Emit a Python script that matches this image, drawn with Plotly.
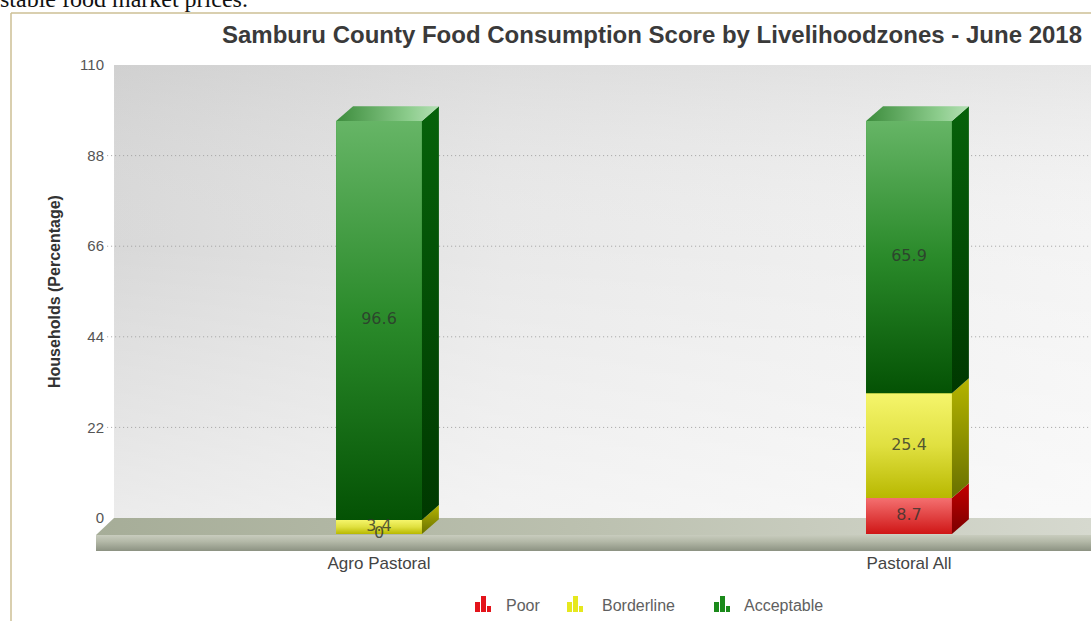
import plotly.graph_objects as go

# ---------------- data ----------------
zones = ["Agro Pastoral", "Pastoral All"]
poor = [0.0, 8.7]
borderline = [3.4, 25.4]
acceptable = [96.6, 65.9]
series_names = ["Poor", "Borderline", "Acceptable"]
y_ticks = [0, 22, 44, 66, 88, 110]

chart_title = "Samburu County Food Consumption Score by Livelihoodzones - June 2018"
y_title = "Households (Percentage)"

# ---------------- canvas / axes geometry ----------------
W, H = 1091, 621
PLOT_L, PLOT_B = 96, 551          # plot area: x from PLOT_L to W, y from 0 to PLOT_B
PLOT_W, PLOT_H = W - PLOT_L, PLOT_B

X_RANGE = [-0.534, 1.3434]        # category positions 0 and 1
Y_BACK_RANGE = [-8.014, 125.79]   # back wall scale (ticks + grid)
Y_FRONT_RANGE = [-4.116, 129.30]  # front plane scale (bar faces)

BAR_W = 0.162
DEPTH_X = 0.032                   # bar depth, x units
DEPTH_Y = 3.6                     # bar depth, front y units

WALL_LEFT = -0.50
FLOOR_FRONT = -4.128              # floor front edge on the back scale
GRID_LEFT = -0.513


def px_x(px):
    return (px - PLOT_L) / PLOT_W


def px_y(py):
    return (PLOT_B - py) / PLOT_H


# colour schemes: front gradient, side gradient, top gradient
STYLES = {
    "Poor": dict(front=[[0, "#cf1616"], [1, "#f47070"]],
                 side=[[0, "#7a0000"], [1, "#c40000"]],
                 top=[[0, "#d03030"], [1, "#f8a0a0"]],
                 icon="#e3141b"),
    "Borderline": dict(front=[[0, "#b8b800"], [0.5, "#e0e040"], [1, "#f5f56c"]],
                       side=[[0, "#687000"], [1, "#b4b400"]],
                       top=[[0, "#c8c820"], [1, "#f4f4a0"]],
                       icon="#e6e81e"),
    "Acceptable": dict(front=[[0, "#045204"], [0.5, "#2a8a2a"], [1, "#66b566"]],
                       side=[[0, "#003800"], [1, "#06620a"]],
                       top=[[0, "#3c8c3c"], [0.7, "#8ccc8c"], [1, "#b5e0b5"]],
                       icon="#1b8a1b"),
}

fig = go.Figure()

# ---------------- back wall ----------------
wx = [WALL_LEFT, X_RANGE[1], X_RANGE[1], WALL_LEFT, WALL_LEFT]
wy = [0, 0, 110, 110, 0]
fig.add_trace(go.Scatter(
    x=wx, y=wy, mode="lines", fill="toself", line=dict(width=0),
    fillgradient=dict(type="horizontal",
                      colorscale=[[0, "#d4d4d4"], [0.4, "#e6e6e6"], [1, "#f3f3f3"]]),
    hoverinfo="skip", showlegend=False, xaxis="x", yaxis="y"))
fig.add_trace(go.Scatter(
    x=wx, y=wy, mode="lines", fill="toself", line=dict(width=0),
    fillgradient=dict(type="vertical",
                      colorscale=[[0, "rgba(255,255,255,0.55)"], [0.6, "rgba(255,255,255,0.1)"],
                                  [1, "rgba(200,200,200,0.3)"]]),
    hoverinfo="skip", showlegend=False, xaxis="x", yaxis="y"))

# dotted grid lines on the wall
for v in y_ticks[1:-1]:
    fig.add_trace(go.Scatter(
        x=[GRID_LEFT, X_RANGE[1]], y=[v, v], mode="lines",
        line=dict(color="#a0a0a0", width=1, dash="1px,3px"),
        hoverinfo="skip", showlegend=False, xaxis="x", yaxis="y"))

# ---------------- floor ----------------
fig.add_trace(go.Scatter(
    x=[WALL_LEFT, X_RANGE[1], X_RANGE[1], X_RANGE[0], WALL_LEFT],
    y=[0, 0, FLOOR_FRONT, FLOOR_FRONT, 0], mode="lines", fill="toself", line=dict(width=0),
    fillgradient=dict(type="horizontal",
                      colorscale=[[0, "#a6ad98"], [0.5, "#bcc1b0"], [1, "#d6d9cf"]]),
    hoverinfo="skip", showlegend=False, xaxis="x", yaxis="y"))
fig.add_trace(go.Scatter(
    x=[X_RANGE[0], X_RANGE[1], X_RANGE[1], X_RANGE[0], X_RANGE[0]],
    y=[FLOOR_FRONT, FLOOR_FRONT, Y_BACK_RANGE[0], Y_BACK_RANGE[0], FLOOR_FRONT],
    mode="lines", fill="toself", line=dict(width=0),
    fillgradient=dict(type="vertical",
                      colorscale=[[0, "#8c9282"], [0.6, "#b4b9a8"], [1, "#c8ccbe"]]),
    hoverinfo="skip", showlegend=False, xaxis="x", yaxis="y"))

# ---------------- stacked bars (front plane) ----------------
values = {"Poor": poor, "Borderline": borderline, "Acceptable": acceptable}
xpos = list(range(len(zones)))

for name in series_names:
    fig.add_trace(go.Bar(
        x=xpos, y=values[name], name=name, width=BAR_W,
        marker=dict(color=STYLES[name]["icon"], line=dict(width=0)),
        xaxis="x", yaxis="y2", showlegend=False))

# shaded faces of each segment
label_x, label_y, label_t = [], [], []
for i, xc in enumerate(xpos):
    base = 0.0
    total = sum(values[n][i] for n in series_names)
    for name in series_names:
        v = values[name][i]
        top = base + v
        label_x.append(xc)
        label_y.append(base + v / 2)
        label_t.append(f"{v:g}")
        if v > 0:
            st = STYLES[name]
            x0, x1 = xc - BAR_W / 2, xc + BAR_W / 2
            # front face
            fig.add_trace(go.Scatter(
                x=[x0, x1, x1, x0, x0], y=[base, base, top, top, base],
                mode="lines", fill="toself", line=dict(width=0),
                fillgradient=dict(type="vertical", colorscale=st["front"]),
                hoverinfo="skip", showlegend=False, xaxis="x", yaxis="y2"))
            # right side face
            fig.add_trace(go.Scatter(
                x=[x1, x1 + DEPTH_X, x1 + DEPTH_X, x1, x1],
                y=[base, base + DEPTH_Y, top + DEPTH_Y, top, base],
                mode="lines", fill="toself", line=dict(width=0),
                fillgradient=dict(type="vertical", colorscale=st["side"]),
                hoverinfo="skip", showlegend=False, xaxis="x", yaxis="y2"))
            # top face of the stack
            if abs(top - total) < 1e-9:
                fig.add_trace(go.Scatter(
                    x=[x0, x1, x1 + DEPTH_X, x0 + DEPTH_X, x0],
                    y=[top, top, top + DEPTH_Y, top + DEPTH_Y, top],
                    mode="lines", fill="toself", line=dict(width=0),
                    fillgradient=dict(type="horizontal", colorscale=st["top"]),
                    hoverinfo="skip", showlegend=False, xaxis="x", yaxis="y2"))
        base = top

# value labels
fig.add_trace(go.Scatter(
    x=label_x, y=label_y, text=label_t, mode="text",
    textfont=dict(family="DejaVu Sans", size=16, color="rgba(45,50,45,0.8)"),
    hoverinfo="skip", showlegend=False, xaxis="x", yaxis="y2", cliponaxis=False))

# ---------------- custom legend ----------------
shapes = []
annotations = []
legend_items = [("Poor", 475, 504), ("Borderline", 567, 600), ("Acceptable", 714, 742)]
icon_bars = [(0, 5, 10), (6, 11, 16), (12, 16, 6)]   # (left, right, height) in px
for name, icon_px, text_px in legend_items:
    for l, r, h in icon_bars:
        shapes.append(dict(type="rect", xref="paper", yref="paper",
                           x0=px_x(icon_px + l), x1=px_x(icon_px + r),
                           y0=px_y(612), y1=px_y(612 - h),
                           fillcolor=STYLES[name]["icon"], line=dict(width=0)))
    annotations.append(dict(xref="paper", yref="paper", x=px_x(text_px), y=px_y(605),
                            xanchor="left", yanchor="middle", showarrow=False, text=name,
                            font=dict(family="Liberation Sans", size=16, color="#606060")))

# page frame
shapes.append(dict(type="line", xref="paper", yref="paper",
                   x0=px_x(11), x1=px_x(W + 5), y0=px_y(13), y1=px_y(13),
                   line=dict(color="#ccbf95", width=1.5)))
shapes.append(dict(type="line", xref="paper", yref="paper",
                   x0=px_x(11), x1=px_x(11), y0=px_y(13), y1=px_y(H + 5),
                   line=dict(color="#ccbf95", width=1.5)))

# y axis title
annotations.append(dict(xref="paper", yref="paper", x=px_x(54), y=px_y(292),
                        xanchor="center", yanchor="middle", showarrow=False, textangle=-90,
                        text=f"<b>{y_title}</b>",
                        font=dict(family="Liberation Sans", size=16, color="#333333")))

# running document text above the chart
annotations.append(dict(xref="paper", yref="paper", x=px_x(-2), y=px_y(14),
                        xanchor="left", yanchor="bottom", showarrow=False,
                        text="stable food market prices.",
                        font=dict(family="Liberation Serif", size=24, color="#111111")))

fig.update_layout(
    width=W, height=H,
    margin=dict(l=PLOT_L, r=0, t=0, b=H - PLOT_B, pad=0),
    paper_bgcolor="white", plot_bgcolor="rgba(0,0,0,0)",
    barmode="stack", bargap=0,
    title=dict(text=f"<b>{chart_title}</b>", x=652 / W, y=1 - 35 / H,
               xanchor="center", yanchor="middle",
               font=dict(family="Liberation Sans", size=24, color="#3a3a3a")),
    xaxis=dict(range=X_RANGE, tickvals=xpos, ticktext=zones, showgrid=False,
               zeroline=False, showline=False, ticks="", anchor="y",
               tickfont=dict(family="Liberation Sans", size=17, color="#444444")),
    yaxis=dict(range=Y_BACK_RANGE, tickvals=y_ticks, showgrid=False, zeroline=False,
               showline=False, ticks="", anchor="free", position=px_x(104), side="left",
               tickfont=dict(family="Liberation Sans", size=15, color="#555555")),
    yaxis2=dict(range=Y_FRONT_RANGE, overlaying="y", visible=False, showgrid=False,
                zeroline=False),
    shapes=shapes, annotations=annotations,
    showlegend=False,
)

fig.write_html("out.html")
